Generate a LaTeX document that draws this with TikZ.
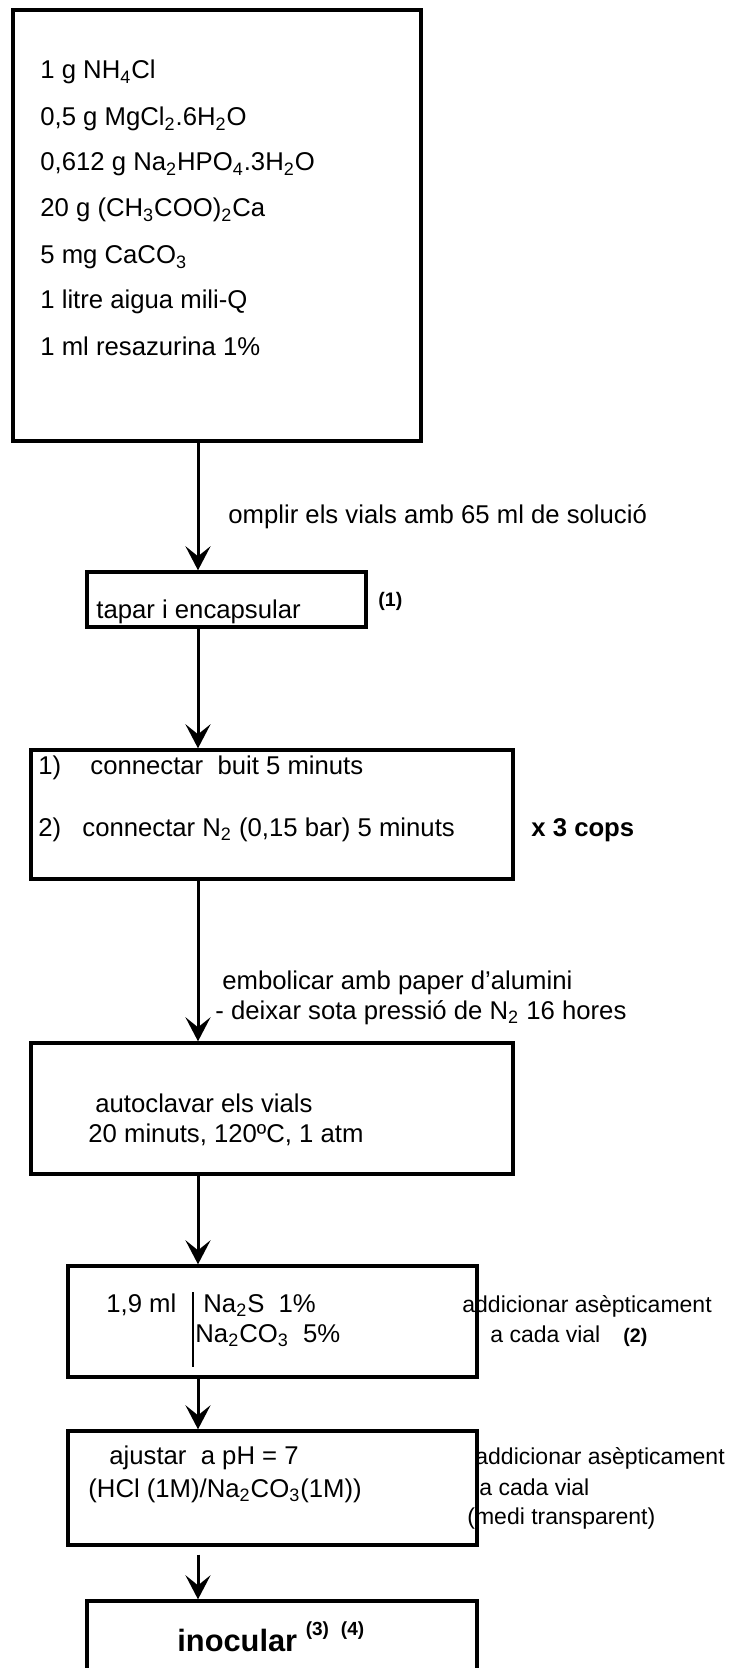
\documentclass[tikz,border=0pt]{standalone}
\usepackage{fontspec}
\setmainfont{Liberation Sans}
\usetikzlibrary{arrows.meta,fit}

\begin{document}
\begin{tikzpicture}[x=0.5pt,y=-0.5pt,
  txt/.style={anchor=base west,inner sep=0pt,font=\fontsize{12.85}{15}\selectfont},
  side/.style={anchor=base west,inner sep=0pt,font=\fontsize{11.5}{13.5}\selectfont},
  note/.style={anchor=base west,inner sep=0pt,font=\fontsize{9.8}{11}\selectfont\bfseries},
  stepbox/.style={draw=black,line width=1.7pt,inner sep=0pt},
  flow/.style={line width=1.5pt,-{Stealth[length=12pt,width=12.5pt,inset=5pt]}}]
\useasboundingbox (0,0) rectangle (732,1668);
\clip (0,0) rectangle (732,1668);
\coordinate (axis) at (198,0);

% Draw the boxes of the steps
\node[stepbox, line width=1.9pt, fit={(13,10) (421,441)}] (medium) {};
\node[stepbox, fit={(87,572) (366,627)}] (cap) {};
\node[stepbox, fit={(31,750) (513,879)}] (purge) {};
\node[stepbox, fit={(31,1043) (513,1174)}] (autoclave) {};
\node[stepbox, fit={(68,1266) (477,1377)}] (sulfide) {};
\node[stepbox, fit={(68,1431) (477,1545)}] (ph) {};
\node[stepbox, fit={(87,1601) (477,1720)}] (inoc) {};

% Ingredients of the medium
\node[txt] (ing1) at (40,79) {1 g NH\textsubscript{4}Cl};
\node[txt] (ing2) at (40,126) {0,5 g MgCl\textsubscript{2}.6H\textsubscript{2}O};
\node[txt] (ing3) at (40,171) {0,612 g Na\textsubscript{2}HPO\textsubscript{4}.3H\textsubscript{2}O};
\node[txt] (ing4) at (40,217) {20 g (CH\textsubscript{3}COO)\textsubscript{2}Ca};
\node[txt] (ing5) at (40,264) {5 mg CaCO\textsubscript{3}};
\node[txt] (ing6) at (40,309) {1 litre aigua mili-Q};
\node[txt] (ing7) at (40,356) {1 ml resazurina 1\%};

% Texts of the steps
\node[txt] (fill) at (228,523) {omplir els vials amb 65 ml de soluci\'o};
\node[txt] (captxt) at (96,618) {tapar i encapsular};
\node[note] (n1) at (378,606) {(1)};
\node[txt] (s1) at (38,774) {1)};
\node[txt] (s1txt) at (90,774) {connectar\ \ buit 5 minuts};
\node[txt] (s2) at (38,836) {2)};
\node[txt] (s2txt) at (82,836) {connectar N\textsubscript{2} (0,15 bar) 5 minuts};
\node[txt, font=\fontsize{12.85}{15}\selectfont\bfseries] (times) at (531,836) {x 3 cops};
\node[txt] (wrap) at (222,989) {embolicar amb paper d’alumini};
\node[txt] (leave) at (215,1019) {- deixar sota pressió de N\textsubscript{2} 16 hores};
\node[txt] (auto1) at (95,1112) {autoclavar els vials};
\node[txt] (auto2) at (88,1142) {20 minuts, 120ºC, 1 atm};
\node[txt] (vol) at (106,1312) {1,9 ml};
\node[txt] (nas) at (203,1312) {Na\textsubscript{2}S\ \ 1\%};
\node[txt] (naco) at (195,1342) {Na\textsubscript{2}CO\textsubscript{3}\ \ 5\%};
\node[side] (add1) at (462,1312) {addicionar asèpticament};
\node[side] (each1) at (490,1342) {a cada vial};
\node[note] (n2) at (623,1342) {(2)};
\node[txt] (adj) at (109,1464) {ajustar\ \ a pH = 7};
\node[txt] (acid) at (88,1497) {(HCl (1M)/Na\textsubscript{2}CO\textsubscript{3}(1M))};
\node[side] (add2) at (475,1464) {addicionar asèpticament};
\node[side] (each2) at (479,1495) {a cada vial};
\node[side] (clear) at (467,1524) {(medi transparent)};
\node[txt, font=\fontsize{15.4}{18}\selectfont\bfseries] (inoctxt) at (177,1651)
  {inocular \raisebox{8pt}{\fontsize{9.5}{11}\selectfont (3)\hspace{6pt}(4)}};

% Draw the divider inside the sulfide box
\draw[line width=0.8pt] (193,1292) -- (193,1367);

% Draw the arrows
\draw[flow] (medium.south -| axis) -- (cap.north -| axis);
\draw[flow] (cap.south -| axis) -- (purge.north -| axis);
\draw[flow] (purge.south -| axis) -- (autoclave.north -| axis);
\draw[flow] (autoclave.south -| axis) -- (sulfide.north -| axis);
\draw[flow] (sulfide.south -| axis) -- (ph.north -| axis);
\draw[flow, shorten <=4pt] (ph.south -| axis) -- (inoc.north -| axis);
\end{tikzpicture}
\end{document}
